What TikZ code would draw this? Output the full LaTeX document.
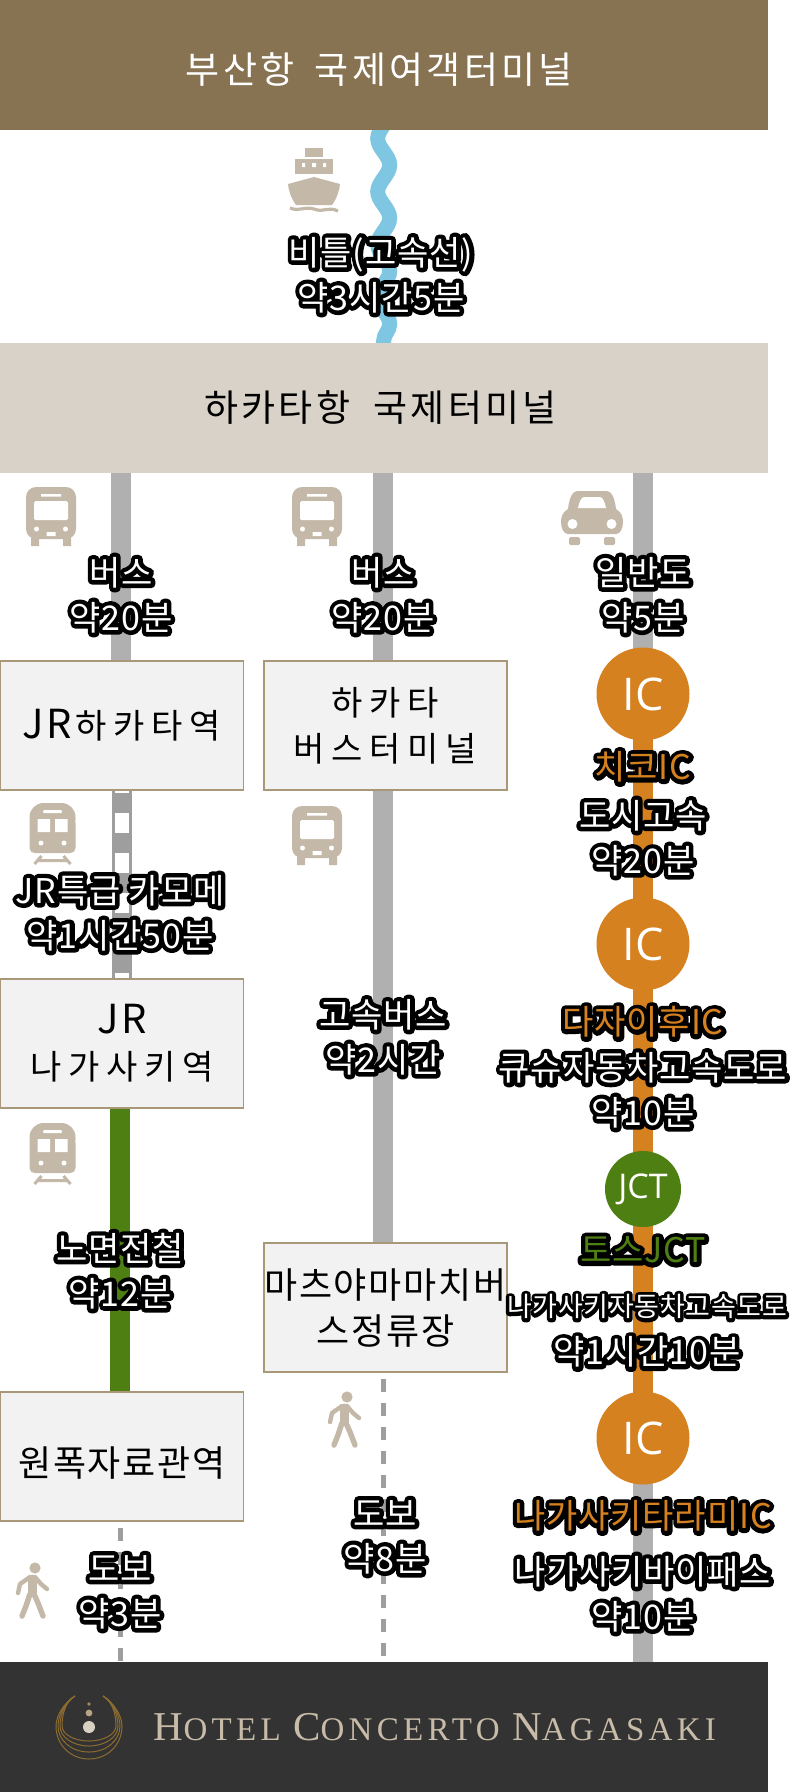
\documentclass[tikz,border=0pt]{standalone}
\usepackage{fontspec}
\usetikzlibrary{backgrounds,decorations.pathmorphing}

\setmainfont{Noto Sans CJK KR}
\newfontfamily\kr{Noto Sans CJK KR}[LetterSpace=2.5]
\newfontfamily\krhalo{Noto Sans CJK KR}[FakeBold=26, LetterSpace=2.5]
\newfontfamily\krwide{Noto Sans CJK KR}[LetterSpace=20]
\newfontfamily\krbanner{Noto Sans CJK KR}[LetterSpace=9]
\newfontfamily\krtight{Noto Sans CJK KR}[LetterSpace=5]
\newfontfamily\latinic{Open Sans}
\newfontfamily\hotelface{Liberation Serif}[LetterSpace=13]

\definecolor{brownbar}{HTML}{877252}
\definecolor{sandbar}{HTML}{D9D2C8}
\definecolor{darkbar}{HTML}{333333}
\definecolor{hotelgold}{HTML}{C8BCA8}
\definecolor{iconsand}{HTML}{C4B9A8}
\definecolor{boxline}{HTML}{A89878}
\definecolor{boxfill}{HTML}{F2F2F2}
\definecolor{seablue}{HTML}{7EC6E2}
\definecolor{roadgray}{HTML}{B0B0B0}
\definecolor{railgray}{HTML}{9E9E9E}
\definecolor{tramgreen}{HTML}{4E7F13}
\definecolor{icorange}{HTML}{D6811F}
\definecolor{ringgold}{HTML}{8C6C30}

\newcommand{\halo}[2][white]{\leavevmode\rlap{\color{black}\pgfsetroundjoin\krhalo #2}{\color{#1}\kr #2}}
\newcommand{\bigjr}{{\fontsize{40}{46}\selectfont\krtight JR}\hspace{4pt}}

\tikzset{
	banner/.style={rectangle, minimum width=768pt, minimum height=130pt, inner sep=0pt, outer sep=0pt},
	stopbox/.style={rectangle, draw=boxline, line width=1.2pt, fill=boxfill, minimum width=243pt, minimum height=129pt, inner sep=0pt, align=center},
	route/.style={align=center, inner sep=0pt, font=\fontsize{34}{45}\selectfont},
	routesmall/.style={align=center, inner sep=0pt, font=\fontsize{27}{45}\selectfont},
	junction/.style={circle, fill=icorange, text=white, minimum size=93pt, inner sep=0pt, font=\fontsize{45}{45}\selectfont\latinic},
	road/.style={draw=roadgray, line width=20pt},
	walkline/.style={draw=railgray, line width=5pt, dash pattern=on 13.5pt off 10.5pt},
	busicon/.pic={
		\fill[iconsand, rounded corners=10pt] (-25,0) rectangle (25,52);
		\fill[iconsand] (-20,48) rectangle (-12,59) (12,48) rectangle (20,59);
		\fill[white, rounded corners=1.5pt] (-17,14) rectangle (17,33);
		\fill[white] (-10,7) rectangle (10,9.5) (-4.5,45) rectangle (4.5,49);
		\fill[white] (-14.5,42) circle (2.5pt) (14.5,42) circle (2.5pt);
	},
	trainicon/.pic={
		\fill[iconsand, rounded corners=14pt] (-23,0) rectangle (23,30);
		\fill[iconsand, rounded corners=5pt] (-23,15) rectangle (23,50);
		\fill[white] (-15,16) rectangle (-2.5,29) (2.5,16) rectangle (15,29);
		\fill[white, rounded corners=1pt] (-9.5,7) rectangle (9.5,10);
		\fill[white] (-11.5,40) circle (2.5pt) (11.5,40) circle (2.5pt);
		\draw[iconsand, line width=3pt] (-11,53) -- (-18,61) (11,53) -- (18,61) (-14,57.5) -- (14,57.5);
	},
	caricon/.pic={
		\fill[iconsand] (-14,0) -- (14,0) .. controls (21,0) and (23,10) .. (24,18) .. controls (29,21) and (31,25) .. (31,31) .. controls (31,38) and (28,43) .. (24,43) -- (-24,43) .. controls (-28,43) and (-31,38) .. (-31,31) .. controls (-31,25) and (-29,21) .. (-24,18) .. controls (-23,10) and (-21,0) .. (-14,0) -- cycle;
		\fill[white] (-8,6) -- (8,6) .. controls (11,6) and (13,12) .. (14,17) -- (-14,17) .. controls (-13,12) and (-11,6) .. (-8,6) -- cycle;
		\fill[white] (-19.5,33) circle (5pt) (19.5,33) circle (5pt);
		\fill[iconsand, rounded corners=1.5pt] (-23,46) rectangle (-12,54) (12,46) rectangle (23,54);
	},
	shipicon/.pic={
		\fill[iconsand] (-9,0) rectangle (9,9);
		\fill[iconsand] (-19,11) rectangle (19,26);
		\fill[iconsand] (0,29) -- (26,36) .. controls (25,44) and (23,50) .. (18,57) -- (-18,57) .. controls (-23,50) and (-25,44) .. (-26,36) -- cycle;
		\fill[white] (-12,15) rectangle (-9,19) (-2,15) rectangle (2,19) (9,15) rectangle (12,19);
		\draw[iconsand, line width=3.2pt] (-24,60) .. controls (-14,64) and (-10,58) .. (0,61) .. controls (10,65) and (14,58) .. (24,63);
	},
	walkericon/.pic={
		\fill[iconsand] (0,0) circle (5.6pt);
		\draw[iconsand, line width=9pt, line cap=round] (-3,11) -- (-3,24);
		\draw[iconsand, line width=4.4pt, line cap=round, line join=round] (-5,9) -- (-15,16) -- (-17,25);
		\draw[iconsand, line width=4.4pt, line cap=round, line join=round] (0,9) -- (6,16) -- (12,21);
		\draw[iconsand, line width=5.4pt, line cap=round, line join=round] (-5,26) -- (-9,38) -- (-13,48);
		\draw[iconsand, line width=5.4pt, line cap=round, line join=round] (-1,26) -- (3,35) -- (8,48);
	},
	ringlogo/.pic={
		\foreach \side/\bot in {33/35, 31/28, 29/22, 27/17}
			\draw[ringgold, line width=1pt] (-14,-28) .. controls (-24,-22) and (-\side,-9) .. (-\side,2) .. controls (-\side,\bot*0.6) and (-\side*0.55,\bot) .. (0,\bot) .. controls (\side*0.55,\bot) and (\side,\bot*0.6) .. (\side,2) .. controls (\side,-9) and (24,-22) .. (14,-28);
		\fill[ringgold!80!white] (0,-20) circle (1.8pt);
		\fill[hotelgold!70!ringgold] (0,-11) circle (3.4pt);
		\fill[hotelgold!70!white] (0,3) circle (6pt);
	},
}

\begin{document}
\begin{tikzpicture}[x=1pt, y=-1pt]
	\useasboundingbox (0,0) rectangle (796,1792);

	% Banners
	\node (busanport) at (384,65) [banner, fill=brownbar, text=white, text height=37pt, text depth=0pt, font=\fontsize{37}{37}\selectfont\krbanner] {부산항\hspace{20pt}국제여객터미널\hspace{9pt}\mbox{}};
	\node (hakataport) at (384,408) [banner, fill=sandbar, font=\fontsize{37}{37}\selectfont\krbanner] {하카타항\hspace{23pt}국제터미널\hspace{7pt}\mbox{}};
	\node (hotel) at (384,1727) [banner, fill=darkbar] {};
	\node (hotelname) at (435,1727) [inner sep=0pt, text=hotelgold] {\hotelface\fontsize{41}{41}\selectfont H\fontsize{33}{33}\selectfont OTEL \fontsize{41}{41}\selectfont C\fontsize{33}{33}\selectfont ONCERTO \fontsize{41}{41}\selectfont N\fontsize{33}{33}\selectfont AGASAKI};

	% Stops
	\node (jrhakata) at (122,725.5) [stopbox, font=\fontsize{34}{46}\selectfont\krwide] {\bigjr 하카타역};
	\node (jrnagasaki) at (122,1043.5) [stopbox, font=\fontsize{34}{46}\selectfont\krwide] {\bigjr\\나가사키역};
	\node (atomic) at (122,1456.5) [stopbox, text height=40pt, text depth=0pt, font=\fontsize{36}{46}\selectfont\krtight] {원폭자료관역};
	\node (hakatabus) at (385.5,725.5) [stopbox, font=\fontsize{34}{46}\selectfont\krwide] {하카타\\버스터미널};
	\node (matsuyama) at (385.5,1307.5) [stopbox, font=\fontsize{36}{46}\selectfont\krtight] {마츠야마마치버\\스정류장};

	% Junctions
	\node (ic1) at (643,694) [junction] {IC};
	\node (ic2) at (643,944) [junction] {IC};
	\node (jct) at (643,1189) [junction, fill=tramgreen, minimum size=76pt, font=\fontsize{34}{34}\selectfont\latinic] {JCT};
	\node (ic3) at (643,1438) [junction] {IC};

	% Column axes
	\coordinate (c1) at (121,0);
	\coordinate (c1g) at (120,0);
	\coordinate (c2) at (383,0);
	\coordinate (wavetop) at (383.7,95.5);
	\coordinate (wavebot) at (383.7,360);

	% Lines
	\begin{scope}[on background layer]
		\draw[draw=seablue, line width=15pt, decorate, decoration={snake, segment length=53pt, amplitude=6pt}] (wavetop) -- (wavebot);
		\draw[road] (hakataport.south -| c1) -- (jrhakata.north -| c1);
		\draw[draw=railgray, line width=20pt] (jrhakata.south) -- (jrnagasaki.north);
		\draw[draw=white, line width=14pt, dash pattern=on 20pt off 20pt, dash phase=18pt] (jrhakata.south) -- (jrnagasaki.north);
		\draw[draw=tramgreen, line width=20pt] (jrnagasaki.south -| c1g) -- (atomic.north -| c1g);
		\draw[walkline, shorten <=6pt] (atomic.south -| c1g) -- (hotel.north -| c1g);
		\draw[road] (hakataport.south -| c2) -- (matsuyama.north -| c2);
		\draw[walkline, shorten <=6pt] (matsuyama.south -| c2) -- (hotel.north -| c2);
		\draw[road] (hakataport.south -| ic1) -- (ic1.center);
		\draw[draw=icorange, line width=20pt] (ic1.center) -- (ic2.center) -- (jct.center) -- (ic3.center);
		\draw[road] (ic3.center) -- (hotel.north -| ic3);
	\end{scope}

	% Icons
	\pic at (314,148) {shipicon};
	\pic at (51,487) {busicon};
	\pic at (317,487) {busicon};
	\pic at (592,491) {caricon};
	\pic at (52.5,803) {trainicon};
	\pic at (317,806) {busicon};
	\pic at (52.5,1123) {trainicon};
	\pic at (347,1397) {walkericon};
	\pic at (35,1568) {walkericon};
	\pic at (89,1724) {ringlogo};

	% Labels
	\node (lblferry) at (381,275) [route] {\halo{비틀(고속선)}\\\halo{약3시간5분}};
	\node (lblbus1) at (121,595) [route] {\halo{버스}\\\halo{약20분}};
	\node (lblbus2) at (383,595) [route] {\halo{버스}\\\halo{약20분}};
	\node (lblroad) at (643,595) [route] {\halo{일반도}\\\halo{약5분}};
	\node (lblexpress) at (120,913) [route] {\halo{JR특급 카모메}\\\halo{약1시간50분}};
	\node (lblhighway) at (383,1037) [route] {\halo{고속버스}\\\halo{약2시간}};
	\node (lbltram) at (120,1271) [route] {\halo{노면전철}\\\halo{약12분}};
	\node (lblwalk1) at (120,1592) [route] {\halo{도보}\\\halo{약3분}};
	\node (lblwalk2) at (385,1537) [route] {\halo{도보}\\\halo{약8분}};
	\node (lblchikko) at (643,767) [route] {\halo[icorange]{치코IC}};
	\node (lblcity) at (643,838) [route] {\halo{도시고속}\\\halo{약20분}};
	\node (lbldazaifu) at (643,1022) [route] {\halo[icorange]{다자이후IC}};
	\node (lblkyushu) at (643,1090) [route] {\halo{큐슈자동차고속도로}\\\halo{약10분}};
	\node (lbltosu) at (643,1250) [route] {\halo[tramgreen]{토스JCT}};
	\node (lblnagasakiex) at (647,1331) [routesmall] {\halo{나가사키자동차고속도로}\\[3pt]\fontsize{34}{45}\selectfont\halo{약1시간10분}};
	\node (lbltarami) at (643,1516) [route] {\halo[icorange]{나가사키타라미IC}};
	\node (lblbypass) at (643,1594) [route] {\halo{나가사키바이패스}\\\halo{약10분}};
\end{tikzpicture}
\end{document}
